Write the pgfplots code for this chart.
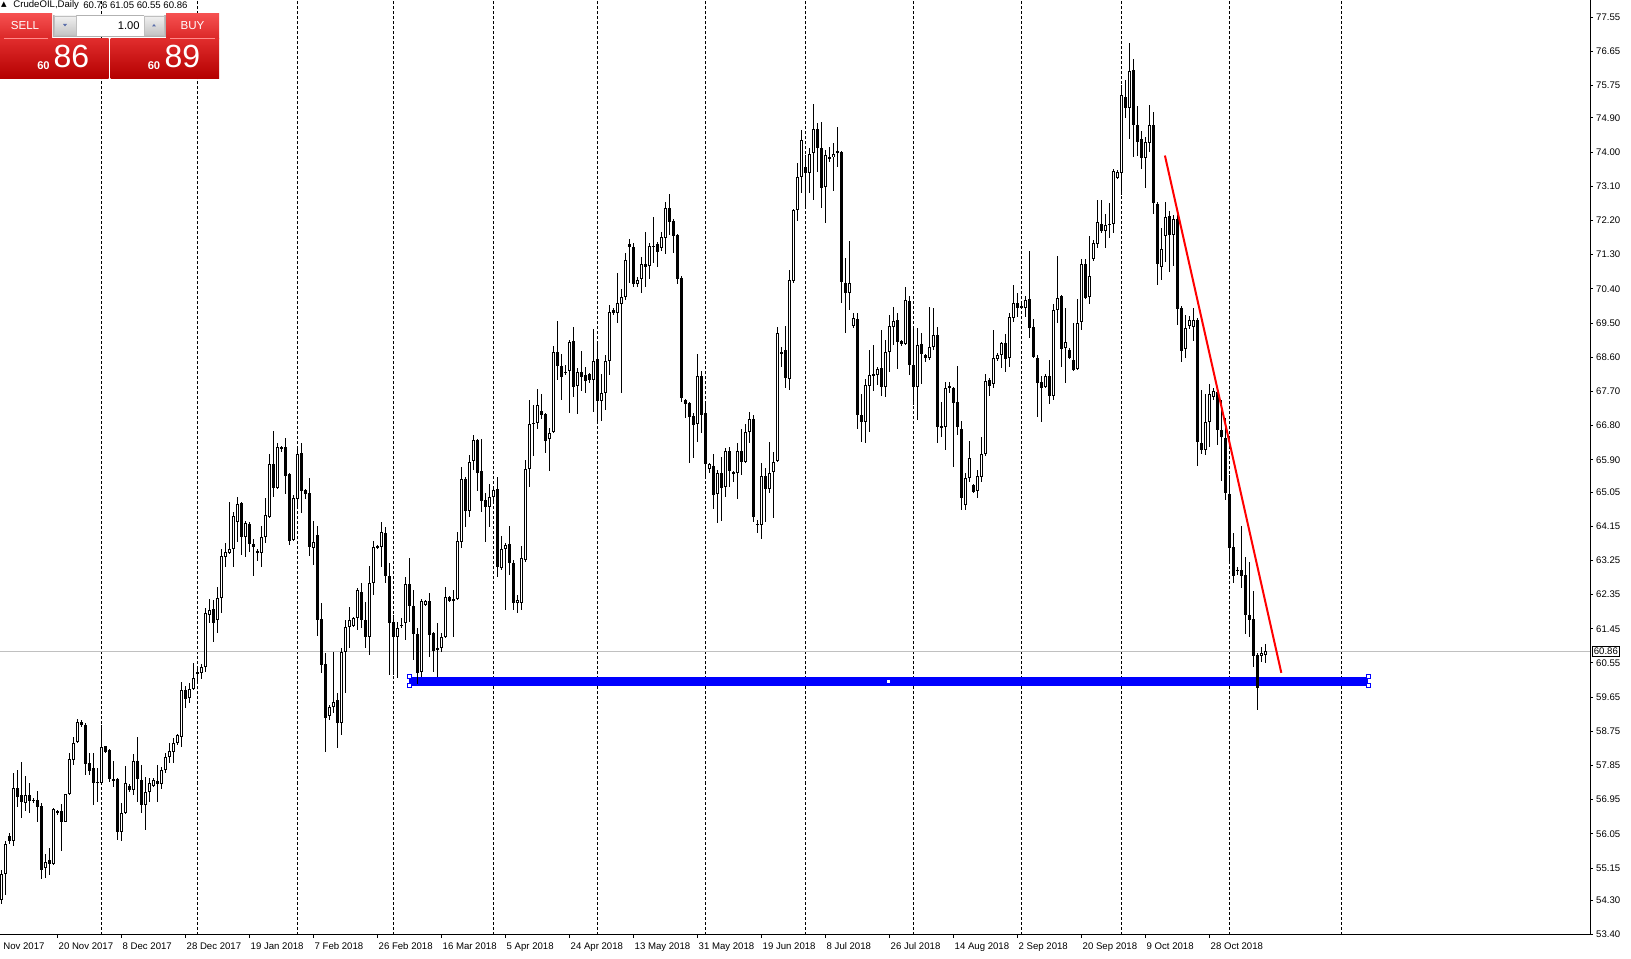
\documentclass[border=0pt]{standalone}
\usepackage{pgfplots}
\usepackage{pgfplotstable}
\pgfplotsset{compat=1.18}
\usepackage{fontspec}
\setmainfont{Liberation Sans}
\newfontfamily\symfont{DejaVu Sans}

\definecolor{mtblue}{RGB}{0,0,255}
\definecolor{mtred}{RGB}{255,0,0}
\definecolor{bidgray}{RGB}{192,192,192}
\definecolor{hdrtop}{RGB}{245,80,80}
\definecolor{hdrbot}{RGB}{220,40,40}
\definecolor{bodytop}{RGB}{225,45,45}
\definecolor{bodybot}{RGB}{180,0,0}
\definecolor{btntop}{RGB}{240,240,240}
\definecolor{btnbot}{RGB}{196,196,196}
\definecolor{arrowblue}{RGB}{90,110,170}

\newcommand\fs{\fontsize{4.8}{5.5}\selectfont}

% CrudeOIL daily bars: index, open, high, low, close
\pgfplotstableread{
k o h l c
0 54.32 55.11 54.19 54.98
1 54.98 55.85 54.45 55.79
2 56.00 56.08 55.79 55.87
3 55.85 57.66 55.72 57.27
4 57.27 57.74 56.77 57.03
5 57.08 57.95 56.48 56.90
6 56.87 57.58 56.64 57.08
7 57.08 57.40 56.61 56.92
8 56.95 57.00 56.87 56.92
9 56.95 57.19 56.35 56.77
10 56.79 56.85 54.87 55.11
11 55.14 55.51 54.90 55.32
12 55.35 55.69 54.98 55.27
13 55.27 56.74 55.24 56.71
14 56.64 56.69 56.56 56.61
15 56.66 56.85 55.61 56.37
16 56.37 57.11 56.35 57.11
17 57.11 58.19 57.08 58.03
18 58.00 58.61 57.87 58.43
19 58.48 59.08 58.45 59.00
20 59.00 59.05 58.87 58.92
21 58.92 58.98 57.61 57.90
22 57.92 58.19 57.61 57.71
23 57.79 58.19 56.82 57.40
24 57.42 57.79 56.90 57.40
25 57.40 58.92 57.37 58.35
26 58.35 58.37 58.19 58.21
27 58.27 58.29 57.42 57.50
28 57.50 57.98 57.29 57.45
29 57.50 57.53 55.90 56.11
30 56.11 56.87 55.85 56.61
31 56.61 57.85 56.58 57.40
32 57.32 57.37 57.16 57.21
33 57.21 58.14 57.08 57.98
34 57.98 58.61 56.90 57.50
35 57.48 57.87 56.61 56.82
36 56.82 57.56 56.14 57.14
37 57.14 57.53 56.90 57.40
38 57.32 57.53 57.29 57.48
39 57.45 57.85 56.90 57.37
40 57.37 57.82 57.24 57.74
41 57.74 58.19 57.66 58.08
42 58.08 58.45 57.92 58.24
43 58.21 58.58 57.92 58.45
44 58.45 58.69 58.40 58.64
45 58.61 60.06 58.35 59.85
46 59.85 59.93 59.37 59.61
47 59.64 60.03 59.50 59.87
48 59.87 60.56 59.85 60.16
49 60.29 60.42 60.08 60.28
50 60.29 60.53 60.14 60.45
51 60.45 62.00 60.32 61.87
52 61.82 62.24 61.61 61.95
53 61.98 62.21 61.11 61.61
54 61.69 62.56 61.35 62.27
55 62.27 63.56 61.87 63.37
56 63.34 63.72 63.08 63.48
57 63.45 64.79 63.43 63.56
58 63.56 64.53 63.08 64.43
59 64.27 64.93 63.74 64.74
60 64.77 64.79 63.40 63.87
61 63.87 64.29 63.35 64.24
62 64.21 64.27 63.48 63.69
63 63.69 63.82 62.85 63.61
64 63.50 63.56 63.24 63.45
65 63.45 64.16 63.08 63.87
66 63.87 64.90 63.72 64.45
67 64.40 66.06 64.37 65.79
68 65.79 66.66 64.92 65.16
69 65.16 66.35 65.14 66.24
70 66.19 66.27 66.11 66.24
71 66.24 66.48 65.00 65.48
72 65.53 65.56 63.66 63.77
73 63.79 64.98 63.77 64.90
74 64.87 66.27 64.64 66.06
75 66.08 66.35 64.50 65.08
76 65.11 65.14 64.87 65.00
77 65.03 65.43 63.37 63.61
78 63.58 64.29 63.14 63.74
79 63.92 64.16 61.27 61.69
80 61.72 62.14 60.29 60.50
81 60.53 60.82 58.21 59.11
82 59.14 59.45 59.05 59.40
83 59.40 60.85 59.24 59.53
84 59.58 59.77 58.32 58.98
85 58.98 60.95 58.66 60.85
86 60.85 61.69 59.77 61.50
87 61.50 62.03 60.95 61.69
88 61.53 61.77 61.50 61.74
89 61.74 62.53 61.43 62.48
90 62.43 62.66 61.48 61.69
91 61.69 62.16 60.95 61.24
92 61.24 63.11 60.77 62.66
93 62.66 63.77 62.35 63.61
94 63.64 63.66 63.56 63.58
95 63.61 64.27 63.08 64.00
96 63.98 64.14 62.66 62.85
97 62.85 63.19 60.22 61.61
98 61.64 61.82 60.22 61.24
99 61.24 61.64 60.16 61.48
100 61.53 61.74 61.48 61.56
101 61.61 62.82 61.16 62.64
102 62.64 63.32 61.64 62.06
103 62.06 62.48 60.64 61.32
104 61.32 61.48 60.00 60.29
105 60.32 62.24 60.19 62.19
106 62.08 62.21 62.06 62.19
107 62.19 62.40 60.71 61.29
108 61.35 61.37 60.32 60.87
109 60.95 61.61 60.19 60.90
110 60.95 61.35 60.85 61.24
111 61.24 62.56 61.21 62.29
112 62.29 62.32 62.16 62.19
113 62.24 62.48 61.24 62.19
114 62.24 64.01 62.21 63.77
115 63.74 65.72 63.58 65.40
116 65.40 65.45 64.14 64.56
117 64.56 66.03 64.40 65.85
118 65.87 66.56 65.64 66.43
119 66.43 66.45 65.08 65.56
120 65.61 66.45 64.53 64.82
121 64.85 65.03 63.74 64.66
122 64.66 65.27 64.14 64.92
123 64.92 65.19 64.79 65.11
124 65.14 65.45 62.82 63.08
125 63.06 63.90 63.00 63.56
126 63.56 63.72 61.95 63.66
127 63.69 64.16 62.87 63.19
128 63.19 63.27 61.95 62.14
129 62.14 62.35 61.87 62.21
130 62.14 63.64 61.95 63.32
131 63.27 65.90 63.22 65.66
132 65.66 67.48 65.19 66.85
133 66.85 67.35 66.00 66.87
134 66.87 67.77 66.71 67.35
135 67.19 67.64 66.98 67.08
136 67.11 67.14 66.08 66.40
137 66.45 66.74 65.61 66.61
138 66.64 68.90 66.61 68.74
139 68.74 69.56 68.00 68.37
140 68.37 68.69 67.48 68.08
141 68.21 68.40 68.14 68.19
142 68.24 69.06 67.14 69.00
143 69.03 69.40 67.56 67.82
144 67.85 68.32 67.11 68.21
145 68.21 68.77 67.71 68.08
146 68.14 68.35 67.66 67.98
147 68.16 68.19 67.93 68.00
148 68.00 69.35 67.16 68.50
149 68.56 68.98 66.87 67.45
150 67.45 68.16 66.93 67.66
151 67.66 68.66 67.22 68.50
152 68.50 69.98 68.14 69.79
153 69.85 69.90 69.72 69.77
154 69.77 70.82 69.50 70.03
155 70.00 70.40 67.66 70.19
156 70.19 71.35 70.11 71.16
157 71.58 71.71 70.56 71.50
158 71.50 71.61 70.45 70.53
159 70.53 70.72 70.45 70.64
160 70.66 71.24 70.29 71.05
161 71.05 71.90 70.45 70.98
162 71.00 71.61 70.66 71.53
163 71.53 72.29 71.08 71.50
164 71.58 71.64 70.98 71.37
165 71.48 71.90 71.40 71.77
166 71.74 72.69 71.32 72.53
167 72.53 72.90 71.82 72.16
168 72.19 72.24 71.35 71.79
169 71.82 71.85 70.53 70.66
170 70.69 70.74 67.43 67.53
171 67.48 67.50 67.00 67.37
172 67.40 67.43 65.82 67.03
173 67.06 67.14 65.95 66.82
174 66.85 68.69 66.37 68.11
175 68.11 68.24 66.61 67.08
176 67.14 67.40 65.45 65.79
177 65.66 65.82 65.56 65.79
178 65.74 66.06 64.61 64.98
179 65.00 65.64 64.24 65.56
180 65.56 65.98 64.29 65.16
181 65.19 66.22 64.92 66.14
182 66.14 66.24 65.19 65.61
183 65.58 65.61 65.32 65.53
184 65.56 66.35 64.87 66.14
185 66.14 66.72 65.50 65.85
186 65.85 66.85 65.82 66.64
187 66.64 67.16 66.35 66.98
188 66.98 67.08 64.27 64.40
189 64.22 64.32 63.98 64.19
190 64.19 65.82 63.82 65.48
191 65.48 65.69 64.27 65.14
192 65.14 66.37 65.03 65.56
193 65.58 66.11 64.37 65.85
194 65.87 69.40 65.85 69.24
195 68.74 68.87 68.35 68.69
196 68.79 69.43 67.79 68.06
197 68.03 70.90 67.74 70.64
198 70.61 72.50 70.56 72.48
199 72.48 73.72 72.19 73.35
200 73.35 74.58 72.93 74.32
201 73.61 73.93 72.56 73.45
202 73.45 74.11 72.93 73.95
203 73.98 75.27 72.74 74.61
204 74.61 74.77 73.48 74.11
205 74.11 74.79 72.53 73.06
206 73.08 74.06 72.14 73.93
207 73.85 74.14 73.74 73.84
208 73.87 74.24 72.98 73.95
209 73.98 74.66 73.61 74.03
210 74.00 74.03 70.03 70.58
211 70.56 71.21 69.24 70.29
212 70.29 71.66 69.85 70.56
213 69.43 69.77 69.37 69.64
214 69.61 69.77 66.72 67.08
215 67.08 67.64 66.37 66.90
216 66.90 68.03 66.35 67.87
217 67.85 68.79 66.64 68.14
218 68.14 68.93 67.71 68.13
219 68.14 68.35 67.87 68.29
220 68.32 69.32 67.58 67.82
221 67.82 69.06 67.56 68.74
222 68.74 69.71 68.21 69.43
223 69.40 69.93 68.93 69.56
224 69.58 69.77 68.29 69.00
225 69.03 69.06 68.90 68.95
226 68.95 70.45 68.93 70.11
227 70.08 70.21 68.14 68.40
228 68.40 69.40 67.35 67.82
229 67.82 69.37 66.95 68.93
230 68.95 69.24 67.90 68.69
231 68.66 68.69 68.48 68.58
232 68.58 69.93 68.53 68.87
233 68.87 69.90 68.79 69.19
234 69.19 69.40 66.35 66.77
235 66.79 67.43 66.50 66.74
236 66.77 67.95 66.16 67.79
237 67.82 67.95 67.66 67.81
238 67.79 67.82 65.72 67.40
239 67.43 68.37 66.56 66.77
240 66.72 66.93 64.58 64.90
241 64.72 65.56 64.58 65.43
242 65.43 66.40 65.32 65.95
243 65.24 65.27 65.03 65.06
244 65.08 65.64 64.90 65.48
245 65.45 66.50 65.32 66.06
246 66.06 68.16 66.00 67.98
247 68.00 68.06 67.58 67.85
248 67.90 69.32 67.79 68.58
249 68.56 68.71 68.50 68.66
250 68.66 69.00 68.32 68.98
251 68.98 69.22 68.21 68.56
252 68.58 69.77 68.35 69.66
253 69.64 70.50 69.53 70.03
254 70.03 70.29 69.66 69.90
255 69.93 70.08 69.87 69.92
256 69.90 70.21 69.66 70.11
257 70.14 71.40 69.11 69.37
258 69.40 69.61 68.58 68.61
259 68.58 68.66 67.03 67.93
260 67.95 68.11 66.90 67.79
261 67.82 68.16 67.79 68.11
262 68.11 68.53 67.37 67.58
263 67.58 70.00 67.48 69.85
264 69.85 71.27 69.50 70.16
265 70.21 70.24 68.35 68.82
266 68.85 69.90 67.93 69.00
267 68.79 68.85 68.56 68.58
268 68.53 69.50 68.24 68.27
269 68.29 70.14 68.27 69.50
270 69.53 71.19 69.32 71.05
271 71.05 71.19 70.14 70.16
272 70.19 71.79 70.00 70.74
273 71.19 71.69 71.14 71.61
274 71.58 72.74 71.48 72.16
275 72.11 72.74 71.87 71.93
276 71.93 72.37 71.48 72.08
277 72.11 72.66 71.74 72.10
278 72.11 73.56 71.87 73.50
279 73.32 73.53 73.29 73.48
280 73.45 75.77 72.87 75.50
281 75.45 75.90 74.90 75.16
282 75.16 76.87 74.35 76.14
283 76.16 76.45 73.87 74.71
284 74.71 75.21 73.90 74.27
285 74.35 74.56 73.56 73.85
286 73.85 74.40 73.06 74.27
287 74.24 75.24 74.00 74.71
288 74.71 75.06 72.37 72.66
289 72.64 72.69 70.50 71.05
290 70.98 72.00 70.64 71.45
291 71.79 72.69 71.11 72.29
292 72.32 72.45 70.85 71.82
293 71.82 72.35 71.00 72.24
294 72.24 72.35 69.45 69.87
295 69.90 69.95 68.48 68.77
296 68.82 69.71 68.58 69.37
297 69.43 69.69 69.35 69.58
298 69.40 69.90 69.03 69.58
299 69.58 69.64 65.74 66.37
300 66.35 67.74 66.06 66.16
301 66.16 67.64 66.03 66.90
302 66.90 67.90 66.24 67.64
303 67.56 67.79 67.48 67.71
304 67.69 67.79 66.29 66.69
305 66.69 67.48 65.35 66.50
306 66.48 67.01 64.85 65.03
307 65.00 65.50 63.16 63.58
308 63.61 63.98 62.66 62.85
309 63.00 63.08 62.87 62.99
310 63.00 64.16 62.53 62.85
311 62.87 63.35 61.32 61.82
312 61.82 63.22 61.24 61.69
313 61.72 62.45 60.45 60.74
314 60.77 60.82 59.32 59.90
315 60.74 60.98 60.58 60.82
316 60.76 61.05 60.55 60.86
}\candles

\begin{document}
\begin{tikzpicture}
\useasboundingbox (0,-11.75pt) rectangle (815.5pt,467.25pt);
\begin{axis}[
    at={(0,0)}, anchor=south west,
    scale only axis,
    width=795pt, height=467.25pt,
    xmin=-0.325, xmax=397.175,
    ymin=53.40, ymax=78.005,
    axis x line=bottom, axis y line=right,
    axis line style={-, black, line width=0.5pt},
    tick style={black, line width=0.5pt},
    tick align=outside,
    major tick length=1.5pt,
    xtick={14,30,46,62,78,94,110,126,142,158,174,190,206,222,238,254,270,286,302},
    xticklabels={20 Nov 2017,8 Dec 2017,28 Dec 2017,19 Jan 2018,7 Feb 2018,26 Feb 2018,16 Mar 2018,5 Apr 2018,24 Apr 2018,13 May 2018,31 May 2018,19 Jun 2018,8 Jul 2018,26 Jul 2018,14 Aug 2018,2 Sep 2018,20 Sep 2018,9 Oct 2018,28 Oct 2018},
    xticklabel style={font=\fs, anchor=north west, inner sep=0pt, xshift=0.5pt, yshift=-2.2pt},
    extra x ticks={25,49,74,98,123,149,176,201,228,255,280,307,335},
    extra x tick labels={},
    extra x tick style={grid=major, major tick length=0pt},
    major grid style={black, line width=0.5pt, dash pattern=on 1.5pt off 1pt},
    ytick={53.40,54.30,55.15,56.05,56.95,57.85,58.75,59.65,60.55,61.45,62.35,63.25,64.15,65.05,65.90,66.80,67.70,68.60,69.50,70.40,71.30,72.20,73.10,74.00,74.90,75.75,76.65,77.55},
    yticklabel style={font=\fs, inner sep=0.8pt, xshift=0.6pt,
        /pgf/number format/.cd, fixed, fixed zerofill, precision=2, assume math mode=true},
    clip=false,
]
% support zone (rectangle object) behind the bars
\addplot[fill=mtblue, draw=none, forget plot] coordinates {(101.9,59.95) (341.7,59.95) (341.7,60.19) (101.9,60.19)} -- cycle;
% bid line
\addplot[bidgray, line width=0.5pt, forget plot] coordinates {(-0.325,60.86) (397.175,60.86)};
% wicks
\addplot[draw=none, mark=none, forget plot,
    error bars/.cd, y dir=both, y explicit, error mark=none,
    error bar style={draw=black, line width=0.5pt}]
    table[x=k, y expr={(\thisrow{h}+\thisrow{l})/2}, y error expr={(\thisrow{h}-\thisrow{l})/2}] {\candles};
% bodies
\addplot[draw=none, mark=none, forget plot,
    error bars/.cd, y dir=both, y explicit, error mark=none,
    error bar style={draw=black, line width=1.5pt}]
    table[x=k, y expr={(\thisrow{o}+\thisrow{c})/2}, y error expr={max(abs(\thisrow{o}-\thisrow{c})/2,0.015)}] {\candles};
% hollow bull bodies
\addplot[draw=none, mark=none, forget plot,
    error bars/.cd, y dir=both, y explicit, error mark=none,
    error bar style={draw=white, line width=0.5pt}]
    table[x=k, y expr={(\thisrow{o}+\thisrow{c})/2}, y error expr={max((\thisrow{c}-\thisrow{o})/2-0.0263,0)}] {\candles};
% trend line
\addplot[mtred, line width=1pt, forget plot] coordinates {(290.9,73.91) (320,60.29)};
% handles of the selected rectangle
\addplot[only marks, mark=square*, mark size=1pt, mark options={fill=white, draw=mtblue, line width=0.4pt}, forget plot]
    coordinates {(101.9,60.19) (101.9,59.95) (341.7,60.19) (341.7,59.95) (221.8,60.07)};
\end{axis}

\begin{scope}[shift={(0,467.25pt)}, x=0.5pt, y=-0.5pt]
% bid price label
\node[draw=black, fill=white, line width=0.4pt, inner sep=0.7pt, anchor=west, font=\fs] at (1592,651.5) {60.86};
% cut first date label
\node[font=\fs, anchor=north west, inner sep=0pt] at (3,942.5) {Nov 2017};
% chart title
\node[font={\symfont\fontsize{3.6}{4}\selectfont}, inner sep=0pt] at (4,5) {▲};
\node[font=\fs, anchor=west, inner sep=0pt] at (13,5) {CrudeOIL,Daily};
\node[font=\fs, anchor=west, inner sep=0pt] at (83,5) {60.76 61.05 60.55 60.86};
% one-click trading panel
\shade[top color=hdrtop, bottom color=hdrbot] (0,14) rectangle (52,38.3);
\shade[top color=hdrtop, bottom color=hdrbot] (166,14) rectangle (219,38.3);
\shade[top color=bodytop, bottom color=bodybot] (0,38.3) rectangle (108.5,78.5);
\shade[top color=bodytop, bottom color=bodybot] (110.5,38.3) rectangle (219,78.5);
\draw[white!55!red, line width=0.5pt] (4,38.3) -- (48,38.3);
\draw[white!55!red, line width=0.5pt] (170,38.3) -- (215,38.3);
\node[white, font=\fontsize{5.8}{6}\selectfont] at (25,26) {SELL};
\node[white, font=\fontsize{5.8}{6}\selectfont] at (192.5,26) {BUY};
\node[white, font=\bfseries\fontsize{5.6}{6}\selectfont] at (43.5,66) {60};
\node[white, font=\fontsize{16}{16}\selectfont] at (71.5,56.5) {86};
\node[white, font=\bfseries\fontsize{5.6}{6}\selectfont] at (154,66) {60};
\node[white, font=\fontsize{16}{16}\selectfont] at (182.5,56.5) {89};
\draw[gray!60, fill=white, line width=0.4pt] (53.5,15) rectangle (165,36);
\shade[top color=btntop, bottom color=btnbot] (54.5,16) rectangle (76,35);
\shade[top color=btntop, bottom color=btnbot] (144,16) rectangle (164,35);
\draw[gray!50, line width=0.3pt] (54.5,16) rectangle (76,35) (144,16) rectangle (164,35);
\fill[arrowblue] (63,24) -- (67,24) -- (65,26.5) -- cycle;
\fill[arrowblue] (152,26.5) -- (156,26.5) -- (154,24) -- cycle;
\node[font=\fontsize{5.6}{6}\selectfont, anchor=east, inner sep=0pt] at (140,25.5) {1.00};
\end{scope}
\end{tikzpicture}
\end{document}
